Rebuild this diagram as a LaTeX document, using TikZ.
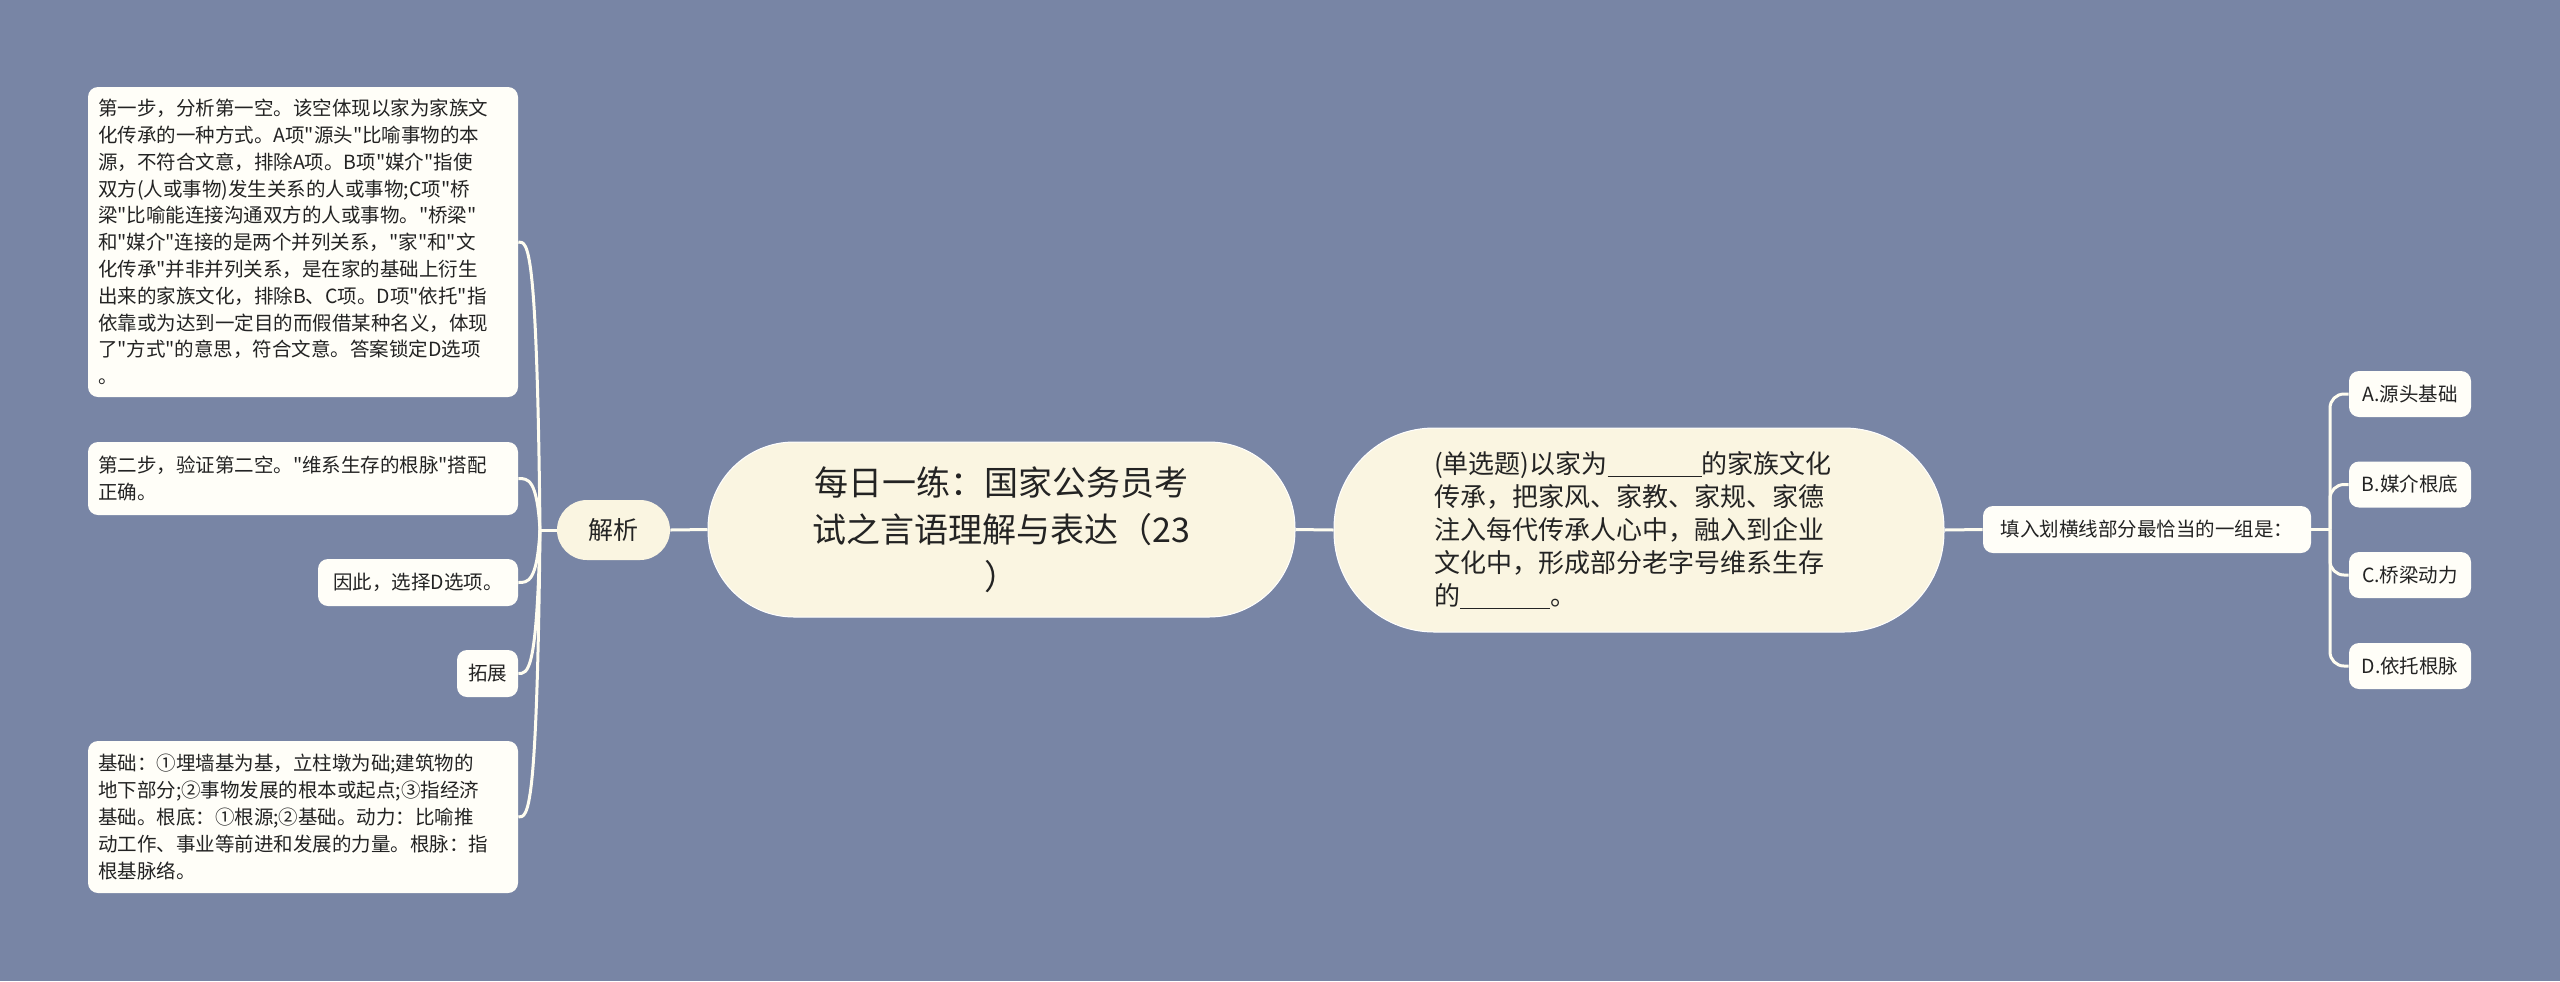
\documentclass[tikz,border=0pt]{standalone}
\usepackage{fontspec}
\setmainfont{Noto Sans CJK SC}
\usetikzlibrary{calc}
\definecolor{bg}{RGB}{120,133,165}
\definecolor{cream}{RGB}{250,245,225}
\definecolor{leaf}{RGB}{255,254,248}
\definecolor{ink}{RGB}{35,35,35}
\definecolor{wire}{RGB}{255,253,240}
\newcommand{\blankline}[1]{\rule[-1.5pt]{#1}{0.5pt}}
\newcommand{\qt}{\textquotedbl}
\begin{document}
\begin{tikzpicture}[x=0.5pt,y=-0.5pt,
  conn/.style={draw=wire, line width=1.5pt},
  leafbox/.style={fill=leaf, rounded corners=5pt, text=ink, font=\fontsize{9.75pt}{13.4pt}\selectfont, inner xsep=5pt, inner ysep=0pt, align=left},
  bigbox/.style={fill=cream, draw=white, line width=0.5pt, text=ink, inner sep=0pt},
  optbox/.style={fill=leaf, rounded corners=5pt, text=ink, font=\fontsize{9.75pt}{12pt}\selectfont, inner sep=0pt, minimum height=23pt},
]
\path[fill=bg, use as bounding box] (0,0) rectangle (2560,981);

% central nodes
\node[bigbox, rounded corners=43pt, minimum width=293.5pt, minimum height=87.5pt, align=center,
      font=\fontsize{17pt}{23.5pt}\selectfont] (root) at (1001.5,529.5)
  {每日一练：国家公务员考\\试之言语理解与表达（23\\）};
\node[bigbox, rounded corners=50pt, minimum width=305pt, minimum height=102pt, text width=205pt, align=left,
      font=\fontsize{13pt}{16.5pt}\selectfont] (q) at (1639,530)
  {(单选题)以家为\blankline{47pt}的家族文化\\传承，把家风、家教、家规、家德\\注入每代传承人心中，融入到企业\\文化中，形成部分老字号维系生存\\的\blankline{45pt}。};
\node[fill=cream, rounded corners=15pt, minimum width=56.5pt, minimum height=30pt, inner sep=0pt, text=ink,
      font=\fontsize{12.5pt}{15pt}\selectfont] (jx) at (613.5,530) {解析};

% right branch
\node[optbox, minimum width=164pt, minimum height=23.5pt] (q2) at (2147,529.5) {填入划横线部分最恰当的一组是：};
\node[optbox, minimum width=61pt] (oA) at (2410,394) {A.源头基础};
\node[optbox, minimum width=61pt] (oB) at (2410,484.5) {B.媒介根底};
\node[optbox, minimum width=61pt] (oC) at (2410,575) {C.桥梁动力};
\node[optbox, minimum width=61pt] (oD) at (2410,666) {D.依托根脉};

% left branch
\node[leafbox, text width=205pt, minimum height=155pt] (b1) at (303,242)
  {第一步，分析第一空。该空体现以家为家族文\\化传承的一种方式。A项\qt 源头\qt 比喻事物的本\\源，不符合文意，排除A项。B项\qt 媒介\qt 指使\\双方(人或事物)发生关系的人或事物;C项\qt 桥\\梁\qt 比喻能连接沟通双方的人或事物。\qt 桥梁\qt\\和\qt 媒介\qt 连接的是两个并列关系，\qt 家\qt 和\qt 文\\化传承\qt 并非并列关系，是在家的基础上衍生\\出来的家族文化，排除B、C项。D项\qt 依托\qt 指\\依靠或为达到一定目的而假借某种名义，体现\\了\qt 方式\qt 的意思，符合文意。答案锁定D选项\\。};
\node[leafbox, text width=205pt, minimum height=36.5pt] (b2) at (303,478.5)
  {第二步，验证第二空。\qt 维系生存的根脉\qt 搭配\\正确。};
\node[leafbox, minimum width=100pt, minimum height=23.5pt, align=center] (b3) at (418,582.5) {因此，选择D选项。};
\node[leafbox, minimum width=30.5pt, minimum height=23.5pt, align=center] (b4) at (487.5,673.5) {拓展};
\node[leafbox, text width=205pt, minimum height=76pt] (b5) at (303,817)
  {基础：①埋墙基为基，立柱墩为础;建筑物的\\地下部分;②事物发展的根本或起点;③指经济\\基础。根底：①根源;②基础。动力：比喻推\\动工作、事业等前进和发展的力量。根脉：指\\根基脉络。};

% connectors
\draw[conn] (root.east) -- (q.west);
\draw[conn] (q.east) -- (q2.west);
\draw[conn] (root.west) -- (jx.east);
\coordinate (J2) at (2330,529.5);
\draw[conn] (q2.east) -- (J2);
\foreach \o in {oA,oB,oC,oD}
  \draw[conn, rounded corners=7pt] (J2) |- (\o.west);
\coordinate (J1) at (540,530);
\draw[conn] (jx.west) -- (J1);
\foreach \b in {b1,b2,b3,b4,b5}
  \draw[conn] (J1) .. controls ($(J1|-\b.east)+(-3,0)$) and ($(J1|-\b.east)+(-12,0)$) .. (\b.east);
\end{tikzpicture}
\end{document}
